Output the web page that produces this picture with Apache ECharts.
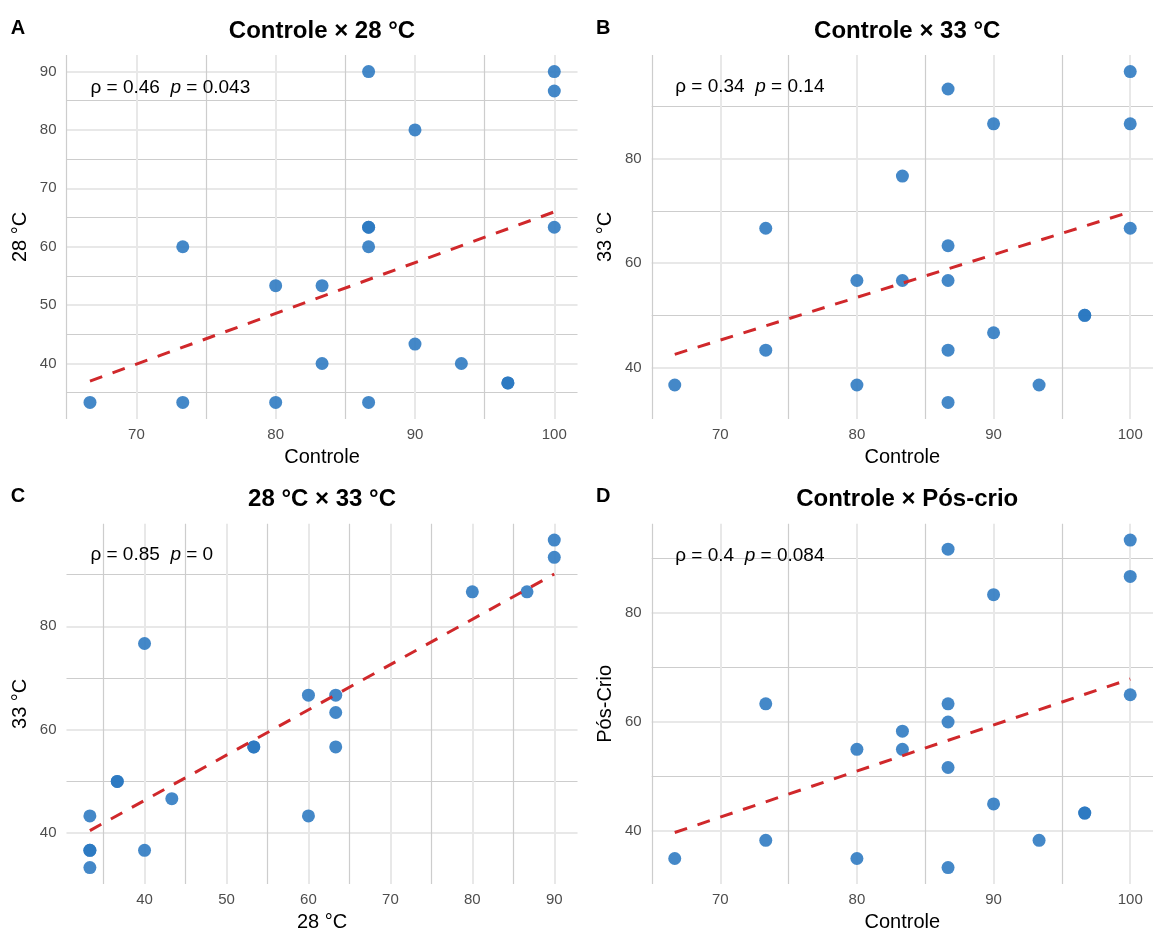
<!DOCTYPE html>
<html>
<head>
<meta charset="utf-8">
<script src="https://cdn.jsdelivr.net/npm/echarts@6/dist/echarts.min.js"></script>
<style>html,body{margin:0;padding:0;background:#fff}#chart{width:1156px;height:933px}</style>
</head>
<body>
<div id="chart"></div>
<script>
// ---- data (one entry per individual) ----
const controle = [66.67, 73.33, 73.33, 80, 80, 83.33, 83.33, 86.67, 86.67, 86.67, 86.67, 86.67, 90, 90, 93.33, 96.67, 96.67, 100, 100, 100];
const temp28   = [33.33, 60, 33.33, 53.33, 33.33, 40, 53.33, 90, 63.33, 63.33, 60, 33.33, 80, 43.33, 40, 36.67, 36.67, 90, 86.67, 63.33];
const temp33   = [36.67, 66.67, 43.33, 56.67, 36.67, 76.67, 56.67, 93.33, 63.33, 56.67, 43.33, 33.33, 86.67, 46.67, 36.67, 50, 50, 96.67, 86.67, 66.67];
const posCrio  = [35, 63.33, 38.33, 55, 35, 58.33, 55, 91.67, 63.33, 60, 51.67, 33.33, 83.33, 45, 38.33, 43.33, 43.33, 93.33, 86.67, 65];

const panelTags   = ['A', 'B', 'C', 'D'];
const panelTitles = ['Controle × 28 °C', 'Controle × 33 °C', '28 °C × 33 °C', 'Controle × Pós-crio'];
const xNames      = ['Controle', 'Controle', '28 °C', 'Controle'];
const yNames      = ['28 °C', '33 °C', '33 °C', 'Pós-Crio'];
const rhoLabels   = ['0.46', '0.34', '0.85', '0.4'];
const pLabels     = ['0.043', '0.14', '0', '0.084'];
const xMajorSteps = [10, 10, 10, 10];
const yMajorSteps = [10, 20, 20, 20];

const panelX = [controle, controle, temp28, controle];
const panelY = [temp28, temp33, temp33, posCrio];

// ---- layout ----
const FONT = '"Liberation Sans", Arial, sans-serif';
const gridLeft = [66.5, 651.7, 66.5, 651.7];
const gridTop = [55, 55, 523.7, 523.7];
const gridW = 511, gridH = 364;

const grids = [], xAxes = [], yAxes = [], series = [], graphics = [];

function isMult(v, step) {
  const r = v / step;
  return Math.abs(r - Math.round(r)) < 1e-6;
}

function axisBase(step) {
  return {
    type: 'value',
    minInterval: step,
    maxInterval: step,
    axisLine: { show: false },
    axisTick: { show: false },
    axisLabel: {
      color: '#4d4d4d', fontSize: 15, fontFamily: FONT,
      formatter: v => (isMult(v, step) ? String(Math.round(v)) : '')
    },
    splitLine: { show: true, showMinLine: false, showMaxLine: false, lineStyle: { color: '#e8e8e8', width: 2 } },
    minorTick: { show: false, splitNumber: 2 },
    minorSplitLine: { show: true, lineStyle: { color: '#cdcdcd', width: 1.2 } },
    nameLocation: 'middle',
    nameTextStyle: { fontSize: 20, color: '#000', fontFamily: FONT }
  };
}

for (let i = 0; i < 4; i++) {
  const xs = panelX[i], ys = panelY[i];
  const xmin = Math.min(...xs), xmax = Math.max(...xs);
  const ymin = Math.min(...ys), ymax = Math.max(...ys);
  const xr = xmax - xmin, yr = ymax - ymin;

  // least-squares fit (geom_smooth lm)
  const n = xs.length;
  const mx = xs.reduce((a, b) => a + b, 0) / n;
  const my = ys.reduce((a, b) => a + b, 0) / n;
  let sxy = 0, sxx = 0;
  for (let k = 0; k < n; k++) { sxy += (xs[k] - mx) * (ys[k] - my); sxx += (xs[k] - mx) ** 2; }
  const slope = sxy / sxx, icpt = my - slope * mx;

  grids.push({ left: gridLeft[i], top: gridTop[i], width: gridW, height: gridH, containLabel: false });

  const xa = axisBase(xMajorSteps[i]);
  Object.assign(xa, { gridIndex: i, min: xmin - 0.05 * xr - 0.02, max: xmax + 0.05 * xr, name: xNames[i], nameGap: 28 });
  xa.axisLabel.margin = 8;
  xAxes.push(xa);

  const ya = axisBase(yMajorSteps[i]);
  Object.assign(ya, { gridIndex: i, min: ymin - 0.05 * yr, max: ymax + 0.05 * yr, name: yNames[i], nameGap: 36 });
  ya.axisLabel.margin = 10;
  yAxes.push(ya);

  series.push({
    type: 'scatter', xAxisIndex: i, yAxisIndex: i, z: 2,
    symbolSize: 13,
    itemStyle: { color: '#2a77c0', opacity: 0.88 },
    data: xs.map((x, k) => [x, ys[k]]),
    silent: true
  });
  series.push({
    type: 'line', xAxisIndex: i, yAxisIndex: i, z: 3,
    showSymbol: false, symbol: 'none',
    lineStyle: { color: '#d0282b', width: 3, type: [13, 11] },
    data: [[xmin, icpt + slope * xmin], [xmax, icpt + slope * xmax]],
    silent: true
  });
  series.push({
    type: 'scatter', xAxisIndex: i, yAxisIndex: i, z: 4,
    symbolSize: 1,
    itemStyle: { color: 'rgba(0,0,0,0)' },
    data: [[xmin, 0.97 * ymax]],
    label: {
      show: true, position: 'right', distance: 0, color: '#000', opacity: 1,
      textBorderWidth: 0,
      formatter: '{t|ρ = ' + rhoLabels[i] + '  }{i|p}{t| = ' + pLabels[i] + '}',
      rich: {
        t: { fontSize: 19, color: '#000', fontFamily: FONT },
        i: { fontSize: 19, color: '#000', fontFamily: FONT, fontStyle: 'italic' }
      }
    },
    silent: true
  });

  graphics.push({
    type: 'text', x: gridLeft[i] + gridW / 2, y: gridTop[i] - 24,
    style: { text: panelTitles[i], align: 'center', verticalAlign: 'middle', fill: '#000',
             fontSize: 24, fontWeight: 'bold', fontFamily: FONT }
  });
  graphics.push({
    type: 'text', x: gridLeft[i] - 48.5, y: gridTop[i] - 27,
    style: { text: panelTags[i], align: 'center', verticalAlign: 'middle', fill: '#000',
             fontSize: 20, fontWeight: 'bold', fontFamily: FONT }
  });
}

const chart = echarts.init(document.getElementById('chart'), null, { renderer: 'canvas' });
chart.setOption({
  animation: false,
  backgroundColor: '#fff',
  textStyle: { fontFamily: FONT },
  grid: grids,
  xAxis: xAxes,
  yAxis: yAxes,
  series: series,
  graphic: graphics
});
</script>
</body>
</html>
